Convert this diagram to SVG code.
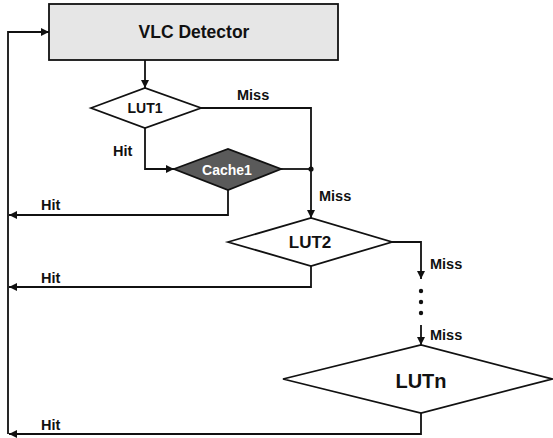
<svg xmlns="http://www.w3.org/2000/svg" width="553" height="438" viewBox="0 0 553 438">
<style>
text{font-family:"Liberation Sans",Arial,sans-serif;font-weight:bold;fill:#111}
.c{text-anchor:middle}
.lbl{font-size:14.5px}
.node{stroke:#111;stroke-width:1.8}
.conn path{fill:none;stroke:#111;stroke-width:1.8}
</style>
<defs>
<marker id="ah" viewBox="0 0 10 10" refX="10" refY="5" markerWidth="9" markerHeight="8" markerUnits="userSpaceOnUse" orient="auto">
<path d="M0,0 L10,5 L0,10 Z" fill="#111"/>
</marker>
</defs>
<rect width="553" height="438" fill="#fff"/>
<g id="vlc">
<rect class="node" x="49" y="4" width="289" height="56" fill="#e6e6e6"/>
<text class="c" x="194" y="38" style="font-size:17.5px">VLC Detector</text>
</g>
<g id="lut1">
<polygon class="node" points="91,108 145,88 201,108 145,128" fill="#fff"/>
<text class="c" x="145" y="113" style="font-size:14px">LUT1</text>
</g>
<g id="cache1">
<polygon class="node" points="174,169 228,149 281,169 228,190" fill="#5a5a5a"/>
<text class="c" x="227" y="175" style="font-size:14px;fill:#fff">Cache1</text>
</g>
<g id="lut2">
<polygon class="node" points="228,242 311,218 392,242 311,266" fill="#fff"/>
<text class="c" x="310" y="248" style="font-size:17px">LUT2</text>
</g>
<g id="lutn">
<polygon class="node" points="283,379 421,345 552,379 421,413" fill="#fff"/>
<text class="c" x="421" y="388" style="font-size:20px">LUTn</text>
</g>
<g class="conn" id="connectors">
<path d="M145,60 V88" marker-end="url(#ah)"/>
<path d="M201,108 H311 V218" marker-end="url(#ah)"/>
<path d="M145,128 V169 H174" marker-end="url(#ah)"/>
<path d="M281,169 H311"/>
<path d="M228,190 V215 H9" marker-end="url(#ah)"/>
<path d="M311,266 V287 H9" marker-end="url(#ah)"/>
<path d="M392,242 H421 V279" marker-end="url(#ah)"/>
<path d="M421,325 V345" marker-end="url(#ah)"/>
<path d="M421,413 V434 H9" marker-end="url(#ah)"/>
<path d="M8,434 V32 H49" marker-end="url(#ah)"/>
<circle cx="311" cy="169" r="2.6" fill="#111"/>
<circle cx="421" cy="291" r="2.2" fill="#111"/>
<circle cx="421" cy="302" r="2.2" fill="#111"/>
<circle cx="421" cy="313" r="2.2" fill="#111"/>
<text class="lbl" x="237" y="100">Miss</text>
<text class="lbl" x="113" y="156">Hit</text>
<text class="lbl" x="319" y="201">Miss</text>
<text class="lbl" x="41" y="210">Hit</text>
<text class="lbl" x="430" y="269">Miss</text>
<text class="lbl" x="41" y="283">Hit</text>
<text class="lbl" x="430" y="340">Miss</text>
<text class="lbl" x="41" y="430">Hit</text>
</g>
</svg>
